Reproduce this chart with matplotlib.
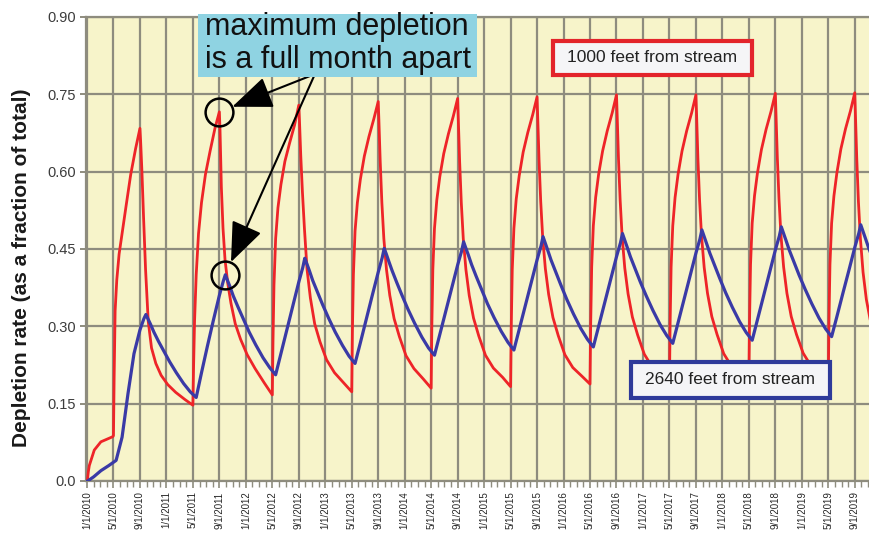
import numpy as np
import matplotlib
matplotlib.use("Agg")
import matplotlib.pyplot as plt
from matplotlib.patches import Rectangle

plt.rcParams['font.family'] = ['Liberation Sans', 'DejaVu Sans']

# months counted from 1/1/2010
years = list(range(2010, 2020))

# 1000 ft well: Jan-Apr 2010 start, then one cycle per year starting May 1
red_start_months = [0.05, 0.2, 0.35, 1.1, 2.1, 3.9]
red_start_values = [0.0, 0.018, 0.03, 0.06, 0.076, 0.086]
red_offsets = [4.0, 4.1, 4.25, 4.5, 4.85, 5.3, 5.9, 6.6, 7.35, 8.0,
               8.1, 8.3, 8.55, 8.85, 9.25, 9.75, 10.4, 11.2, 12.2, 13.4, 14.8]
red_cycles = [
    [0.088, 0.20, 0.33, 0.39, 0.44, 0.48, 0.533, 0.594, 0.645, 0.684,
     0.66, 0.60, 0.51, 0.41, 0.31, 0.258, 0.228, 0.205, 0.187, 0.172, 0.158],
    [0.147, 0.22, 0.31, 0.40, 0.48, 0.54, 0.595, 0.64, 0.685, 0.716,
     0.68, 0.57, 0.49, 0.43, 0.385, 0.345, 0.305, 0.275, 0.245, 0.218, 0.19],
    [0.167, 0.27, 0.38, 0.47, 0.53, 0.575, 0.62, 0.655, 0.69, 0.729,
     0.70, 0.63, 0.56, 0.49, 0.41, 0.355, 0.305, 0.27, 0.235, 0.21, 0.19],
    [0.173, 0.29, 0.40, 0.485, 0.54, 0.585, 0.63, 0.668, 0.703, 0.736,
     0.70, 0.62, 0.54, 0.47, 0.41, 0.36, 0.315, 0.28, 0.243, 0.218, 0.198],
    [0.180, 0.30, 0.41, 0.49, 0.545, 0.59, 0.635, 0.673, 0.708, 0.742,
     0.70, 0.62, 0.54, 0.47, 0.41, 0.36, 0.316, 0.281, 0.244, 0.219, 0.201],
    [0.183, 0.30, 0.41, 0.49, 0.547, 0.592, 0.638, 0.676, 0.711, 0.745,
     0.705, 0.622, 0.542, 0.472, 0.412, 0.362, 0.317, 0.282, 0.245, 0.22, 0.203],
    [0.188, 0.305, 0.415, 0.495, 0.55, 0.595, 0.64, 0.679, 0.714, 0.749,
     0.71, 0.625, 0.545, 0.474, 0.413, 0.363, 0.318, 0.283, 0.246, 0.221, 0.205],
    [0.190, 0.305, 0.415, 0.495, 0.55, 0.595, 0.64, 0.679, 0.714, 0.749,
     0.71, 0.625, 0.545, 0.475, 0.414, 0.364, 0.319, 0.284, 0.247, 0.222, 0.206],
    [0.192, 0.31, 0.42, 0.50, 0.553, 0.598, 0.643, 0.682, 0.717, 0.752,
     0.712, 0.627, 0.547, 0.476, 0.415, 0.364, 0.319, 0.284, 0.248, 0.223, 0.207],
    [0.194, 0.31, 0.42, 0.50, 0.553, 0.598, 0.644, 0.683, 0.718, 0.753,
     0.712, 0.625, 0.542, 0.47, 0.405, 0.352, 0.308, 0.276, 0.245, 0.222, 0.207],
]

# 2640 ft well
blue_start_months = [0.1, 1.0, 2.1, 3.3, 4.4]
blue_start_values = [0.0, 0.008, 0.02, 0.03, 0.04]
blue_offsets = [4.5, 5.3, 6.2, 7.1, 8.0, 8.6, 8.9,
                9.2, 9.6, 10.1, 10.8, 11.6, 12.5, 13.5, 14.6, 15.6]
blue_cycles = [
    [0.045, 0.085, 0.17, 0.247, 0.293, 0.315, 0.323,
     0.315, 0.304, 0.289, 0.271, 0.252, 0.231, 0.21, 0.189, 0.173],
    [0.162, 0.21, 0.262, 0.312, 0.36, 0.388, 0.40,
     0.39, 0.377, 0.359, 0.338, 0.315, 0.289, 0.264, 0.239, 0.22],
    [0.206, 0.247, 0.293, 0.339, 0.386, 0.414, 0.432,
     0.422, 0.408, 0.389, 0.367, 0.342, 0.316, 0.289, 0.263, 0.242],
    [0.228, 0.268, 0.314, 0.36, 0.405, 0.433, 0.451,
     0.441, 0.426, 0.408, 0.385, 0.36, 0.333, 0.306, 0.279, 0.258],
    [0.244, 0.284, 0.329, 0.374, 0.419, 0.446, 0.464,
     0.453, 0.439, 0.42, 0.397, 0.372, 0.344, 0.317, 0.29, 0.269],
    [0.254, 0.294, 0.339, 0.384, 0.429, 0.456, 0.474,
     0.463, 0.448, 0.429, 0.406, 0.38, 0.352, 0.324, 0.296, 0.275],
    [0.260, 0.30, 0.345, 0.39, 0.435, 0.462, 0.48,
     0.469, 0.454, 0.435, 0.412, 0.386, 0.359, 0.331, 0.303, 0.282],
    [0.267, 0.307, 0.352, 0.397, 0.442, 0.469, 0.487,
     0.476, 0.461, 0.442, 0.419, 0.393, 0.365, 0.337, 0.309, 0.288],
    [0.273, 0.313, 0.358, 0.403, 0.448, 0.475, 0.493,
     0.482, 0.467, 0.448, 0.425, 0.399, 0.372, 0.344, 0.316, 0.295],
    [0.280, 0.319, 0.364, 0.408, 0.453, 0.48, 0.497,
     0.486, 0.471, 0.452, 0.429, 0.404, 0.376, 0.349, 0.321, 0.30],
]

tick_months = list(range(0, 117, 4))
tick_labels = ["%d/1/%d" % (m % 12 + 1, 2010 + m // 12) for m in tick_months]
y_ticks = [0.0, 0.15, 0.30, 0.45, 0.60, 0.75, 0.90]
y_labels = ["0.0", "0.15", "0.30", "0.45", "0.60", "0.75", "0.90"]

red_x = list(red_start_months)
red_y = list(red_start_values)
for i, vals in enumerate(red_cycles):
    red_x += [12 * i + o for o in red_offsets]
    red_y += vals
blue_x = list(blue_start_months)
blue_y = list(blue_start_values)
for i, vals in enumerate(blue_cycles):
    blue_x += [12 * i + o for o in blue_offsets]
    blue_y += vals

W, H = 870, 544
fig = plt.figure(figsize=(8.7, 5.44), dpi=100)
fig.patch.set_facecolor('white')
ax = fig.add_axes([86 / W, 63 / H, 784 / W, 464 / H])
ax.set_facecolor('#f7f4ca')

grid_c = '#8e8c7e'
ax.plot(red_x, red_y, color='#ee2428', lw=2.0, zorder=3, solid_joinstyle='round')
ax.plot(blue_x, blue_y, color='#3a3aa6', lw=2.3, zorder=4, solid_joinstyle='round')

ax.set_xlim(-0.15, 118.3)
ax.set_ylim(0, 0.9)
ax.set_yticks(y_ticks)
ax.set_yticklabels(y_labels, fontsize=10.5, color='#3c3c3c')
ax.set_xticks(tick_months)
ax.set_xticklabels(tick_labels, rotation=90, fontsize=7, color='#262626')
ax.set_xticks(range(0, 119), minor=True)
ax.tick_params(axis='x', which='major', length=5, width=1.2, color=grid_c, pad=2.5)
ax.tick_params(axis='x', which='minor', length=4, width=1.0, color=grid_c)
ax.tick_params(axis='y', length=4, width=1.4, color=grid_c, pad=3)
ax.grid(True, which='major', color=grid_c, lw=1.6, zorder=1)
ax.set_axisbelow(True)
for side in ['left', 'bottom', 'top']:
    ax.spines[side].set_color(grid_c)
    ax.spines[side].set_linewidth(1.6)
ax.spines['right'].set_visible(False)

fig.text(22 / W, 1 - 268 / H, "Depletion rate (as a fraction of total)", rotation=90,
         ha='center', va='center', fontsize=15, fontweight='bold', color='#1a1a1a')

# series labels
fig.patches.append(Rectangle((553 / W, 1 - 75 / H), 199 / W, 34 / H, transform=fig.transFigure,
                             facecolor='#f5f5f7', edgecolor='#e3242b', lw=3, zorder=5))
fig.text(652 / W, 1 - 58 / H, "1000 feet from stream", ha='center', va='center',
         fontsize=12.5, color='#222222', zorder=6)
fig.patches.append(Rectangle((631 / W, 1 - 398 / H), 199 / W, 36 / H, transform=fig.transFigure,
                             facecolor='#f5f5f7', edgecolor='#2e3a9a', lw=3, zorder=5))
fig.text(730 / W, 1 - 380 / H, "2640 feet from stream", ha='center', va='center',
         fontsize=12.5, color='#222222', zorder=6)

# callout
fig.patches.append(Rectangle((198 / W, 1 - 77 / H), 279 / W, 63 / H, transform=fig.transFigure,
                             facecolor='#8fd3e2', edgecolor='none', zorder=5))
fig.text(205 / W, 1 - 35 / H, "maximum depletion", ha='left', va='baseline',
         fontsize=22, color='#111111', zorder=6)
fig.text(205 / W, 1 - 68 / H, "is a full month apart", ha='left', va='baseline',
         fontsize=22, color='#111111', zorder=6)

red_peak = (12 + red_offsets[9], red_cycles[1][9])
blue_peak = (12 + blue_offsets[6], blue_cycles[1][6])
for px, py in [red_peak, blue_peak]:
    ax.plot([px], [py], marker='o', ms=20, mfc='none', mec='black', mew=1.8,
            zorder=7, clip_on=False)
    ax.annotate('', xy=(px, py), xytext=(0.292, 0.877), textcoords='axes fraction',
                arrowprops=dict(arrowstyle='-|>,head_length=1.0,head_width=0.4',
                                mutation_scale=25, color='black', lw=1.5,
                                shrinkA=0, shrinkB=10),
                zorder=7)

fig.savefig('out.png', dpi=100)
